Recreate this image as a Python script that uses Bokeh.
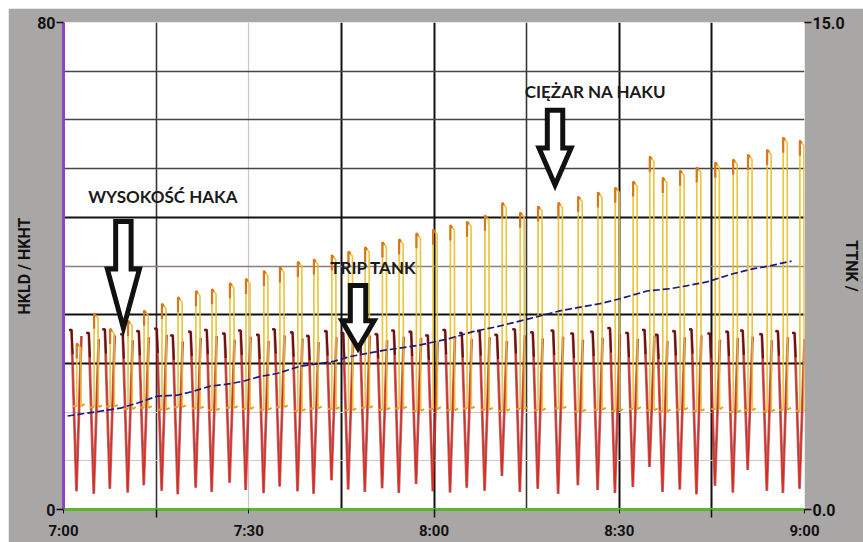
from bokeh.plotting import figure
from bokeh.models import Range1d, LinearAxis, FixedTicker, Grid
from bokeh.embed import file_html
from bokeh.resources import INLINE
from bokeh.core.properties import value

# ---------------- data (time = minutes after 7:00) ----------------
cycle_t = [2.1, 4.9, 7.5, 10.4, 13.0, 15.9, 18.5, 21.4, 24.0, 26.9,
           29.5, 32.4, 35.0, 37.9, 40.5, 43.4, 46.1, 48.8, 51.6, 54.3,
           57.1, 59.8, 62.6, 65.3, 68.2, 71.0, 73.9, 76.8, 80.1, 83.3,
           86.5, 89.3, 92.2, 94.9, 97.0, 99.8, 102.5, 105.5, 108.4, 110.8,
           113.9, 116.5, 119.2]
hkld_peak = [27.3, 32.2, 29.7, 31.0, 32.7, 33.8, 34.9, 35.9, 36.2, 37.2,
             37.9, 39.2, 39.8, 40.7, 41.1, 41.8, 42.4, 43.1, 43.9, 44.4,
             45.4, 46.0, 46.7, 47.3, 48.3, 50.4, 48.8, 49.8, 50.4, 51.4,
             52.1, 52.9, 53.9, 58.0, 54.5, 55.7, 56.2, 57.0, 57.5, 58.3,
             59.1, 61.1, 60.6]
hkld_base = [17.0, 16.8, 16.9, 16.5, 16.7, 16.4, 16.8, 16.6, 16.3, 16.7,
             16.5, 16.4, 16.8, 16.2, 16.6, 16.5, 16.3, 16.7, 16.4, 16.6,
             16.2, 16.5, 16.3, 16.6, 16.4, 16.2, 16.5, 16.3, 16.6, 16.1,
             16.4, 16.2, 16.5, 16.3, 16.1, 16.4, 16.2, 16.5, 16.0, 16.3,
             16.1, 16.4, 16.2]
hkht_top = [29.5, 29.0, 29.6, 28.8, 29.3, 29.7, 28.6, 29.2, 29.5, 28.9,
            29.4, 28.7, 29.6, 29.1, 28.5, 29.3, 29.0, 29.6, 28.8, 29.4,
            29.2, 28.6, 29.5, 29.0, 29.3, 28.7, 29.6, 29.1, 29.4, 28.9,
            29.2, 29.8, 29.0, 29.5, 28.7, 29.3, 29.6, 28.9, 29.2, 29.4,
            28.8, 29.3, 29.0]
hkht_bottom = [3.0, 2.6, 3.4, 2.8, 4.0, 3.1, 2.5, 3.6, 2.9, 4.4,
               3.2, 2.7, 3.8, 3.0, 2.6, 4.8, 3.3, 2.9, 3.5, 2.7,
               4.2, 3.0, 2.8, 3.6, 3.1, 5.5, 2.9, 3.4, 2.6, 4.0,
               3.2, 2.7, 3.7, 7.0, 2.9, 3.3, 2.5, 3.9, 2.8, 6.5,
               3.1, 2.7, 3.4]
ttnk_t = [0.65, 6.0, 9.2, 12.0, 15.2, 18.4, 21.0, 23.8, 26.5, 29.1,
          31.9, 34.6, 38.3, 43.7, 46.4, 51.8, 57.3, 62.6, 66.3, 70.2,
          75.5, 80.4, 86.9, 90.1, 94.5, 98.2, 100.9, 104.2, 108.4, 111.6,
          114.3, 117.9]
ttnk_v = [2.88, 3.03, 3.12, 3.28, 3.49, 3.52, 3.64, 3.80, 3.86, 3.95,
          4.10, 4.19, 4.41, 4.56, 4.71, 4.90, 5.05, 5.27, 5.48, 5.63,
          5.88, 6.12, 6.34, 6.49, 6.73, 6.80, 6.89, 7.01, 7.26, 7.41,
          7.50, 7.65]
x_tick_pos = [0, 30, 60, 90, 120]
x_tick_labels = ["7:00", "7:30", "8:00", "8:30", "9:00"]
annot_text = ["WYSOKOŚĆ HAKA", "TRIP TANK", "CIĘŻAR NA HAKU"]
annot_t = [4.0, 43.2, 74.7]
annot_v = [51.4, 39.8, 68.6]
arrow_tip_t = [9.7, 47.7, 79.6]
arrow_tip_v = [29.8, 26.5, 53.3]
arrow_neck_v = [39.5, 31.0, 59.4]
arrow_tail_v = [47.3, 36.8, 65.6]

FONT = "Roboto"
GRAY = "#A9A6A6"

p = figure(width=855, height=534, output_backend="svg", toolbar_location=None,
           x_range=Range1d(0, 120), y_range=Range1d(0, 80),
           min_border_left=55, min_border_right=58, min_border_top=14,
           min_border_bottom=30)
p.margin = (8, 0, 0, 8)
p.background_fill_color = "white"
p.border_fill_color = GRAY
p.outline_line_color = None
p.xgrid.visible = False
p.ygrid.visible = False
p.extra_y_ranges = {"ttnk": Range1d(0, 15)}

# grid lines
def add_grid(dim, ticks, color, width):
    g = Grid(dimension=dim, ticker=FixedTicker(ticks=ticks),
             grid_line_color=color, grid_line_width=width)
    p.add_layout(g, "center")

add_grid(0, [30], "#CFC4C4", 1.2)
add_grid(0, [15, 75], "#3A3434", 1.6)
add_grid(0, [45, 60, 90, 105], "#111111", 2.0)
add_grid(1, [8, 16], "#D2CACA", 1.2)
add_grid(1, [40], "#8C7E78", 1.5)
add_grid(1, [56, 64, 72], "#4A4444", 1.6)
add_grid(1, [24, 32, 48], "#111111", 2.0)
add_grid(1, [80], "#6E6A6A", 2.5)

# axes
xa = p.xaxis[0]
xa.ticker = FixedTicker(ticks=x_tick_pos, minor_ticks=[15, 60, 105])
xa.major_label_overrides = {float(t): l for t, l in zip(x_tick_pos, x_tick_labels)}
xa.axis_line_color = "#5DB52E"
xa.axis_line_width = 3
xa.major_tick_out = 4
xa.major_tick_in = 0
xa.minor_tick_out = 8
xa.minor_tick_in = 0
xa.minor_tick_line_color = "#111111"
xa.minor_tick_line_width = 1.5
xa.major_tick_line_color = "#111111"
xa.major_label_standoff = 4
xa.major_label_text_font = FONT
xa.major_label_text_font_style = "bold"
xa.major_label_text_font_size = "15px"
xa.major_label_text_color = "#111111"

ya = p.yaxis[0]
ya.ticker = FixedTicker(ticks=[0, 80])
ya.axis_line_color = "#8E44C8"
ya.axis_line_width = 3
ya.major_tick_out = 7
ya.major_tick_in = 0
ya.minor_tick_out = 0
ya.minor_tick_in = 0
ya.major_tick_line_color = "#111111"
ya.major_tick_line_width = 1.5
ya.major_label_standoff = 1
ya.major_label_text_font = FONT
ya.major_label_text_font_style = "bold"
ya.major_label_text_font_size = "16px"
ya.major_label_text_color = "#111111"
ya.axis_label = "HKLD / HKHT"
ya.axis_label_text_font = FONT
ya.axis_label_text_font_style = "bold"
ya.axis_label_text_font_size = "16px"
ya.axis_label_text_color = "#111111"
ya.axis_label_standoff = 0

ra = LinearAxis(y_range_name="ttnk", ticker=FixedTicker(ticks=[0, 15]))
ra.major_label_overrides = {0.0: "0.0", 15.0: "15.0"}
ra.axis_line_color = None
ra.major_tick_out = 7
ra.major_tick_in = 0
ra.minor_tick_out = 0
ra.minor_tick_in = 0
ra.major_tick_line_color = "#111111"
ra.major_tick_line_width = 1.5
ra.major_label_standoff = 1
ra.major_label_text_font = FONT
ra.major_label_text_font_style = "bold"
ra.major_label_text_font_size = "16px"
ra.major_label_text_color = "#111111"
ra.axis_label = "TTNK /"
ra.axis_label_text_font = FONT
ra.axis_label_text_font_style = "bold"
ra.axis_label_text_font_size = "16px"
ra.axis_label_text_color = "#111111"
ra.axis_label_standoff = -6
p.add_layout(ra, "right")

# ---------------- series ----------------
# hook height (red saw-tooth)
red_xs, red_ys, hook_xs, hook_ys = [], [], [], []
for T, top, bot in zip(cycle_t, hkht_top, hkht_bottom):
    red_xs.append([T - 1.2, T - 0.8, T, T + 0.8])
    red_ys.append([top, top, bot, top - 1.0])
    hook_xs.append([T - 1.2, T - 0.8, T - 0.62])
    hook_ys.append([top, top, top - 4.0])
p.multi_line(red_xs, red_ys, line_color="#7A1616", line_width=2.8, line_alpha=0.6)
p.multi_line(red_xs, red_ys, line_color="#E4281E", line_width=1.3)
p.multi_line(hook_xs, hook_ys, line_color="#6A1010", line_width=2.0)

# hook load (yellow spikes)
y_xs, y_ys, top_xs, top_ys, b_xs, b_ys = [], [], [], [], [], []
for T, pk, b in zip(cycle_t, hkld_peak, hkld_base):
    y_xs.append([T + 0.05, T + 0.05, T + 0.7, T + 0.75])
    y_ys.append([b, pk, pk - 0.8, b])
    top_xs.append([T + 0.05, T + 0.05, T + 0.35])
    top_ys.append([pk - 2.5, pk, pk - 0.4])
    b_xs.append([T - 0.6, T + 0.05])
    b_ys.append([b, b])
    b_xs.append([T + 0.75, T + 1.3])
    b_ys.append([b, b + 0.3])
p.multi_line(y_xs, y_ys, line_color="#E8C02E", line_width=1.7, line_alpha=0.9)
p.multi_line(top_xs, top_ys, line_color="#D9761A", line_width=2.2)
p.multi_line(b_xs, b_ys, line_color="#E2A020", line_width=2.0)

# trip tank (blue dashed)
p.line(ttnk_t, ttnk_v, y_range_name="ttnk", line_color="#1B1B80",
       line_width=1.7, line_dash="7 3")

# ---------------- annotations ----------------
for tt, tv, nv, lv in zip(arrow_tip_t, arrow_tip_v, arrow_neck_v, arrow_tail_v):
    sw, hw = 1.25, 2.6
    xs = [tt - sw, tt + sw, tt + sw, tt + hw, tt, tt - hw, tt - sw]
    ys = [lv, lv, nv, nv, tv, nv, nv]
    p.patch(xs, ys, fill_color="white", line_color="#111111", line_width=5,
            line_join="miter")

p.text(x=annot_t, y=annot_v, text=annot_text, text_font=value("Lato"),
       text_font_style="bold", text_font_size="17px", text_color="#1A1A1A",
       text_align="left", text_baseline="middle")

open("out.html", "w").write(file_html(p, INLINE))
